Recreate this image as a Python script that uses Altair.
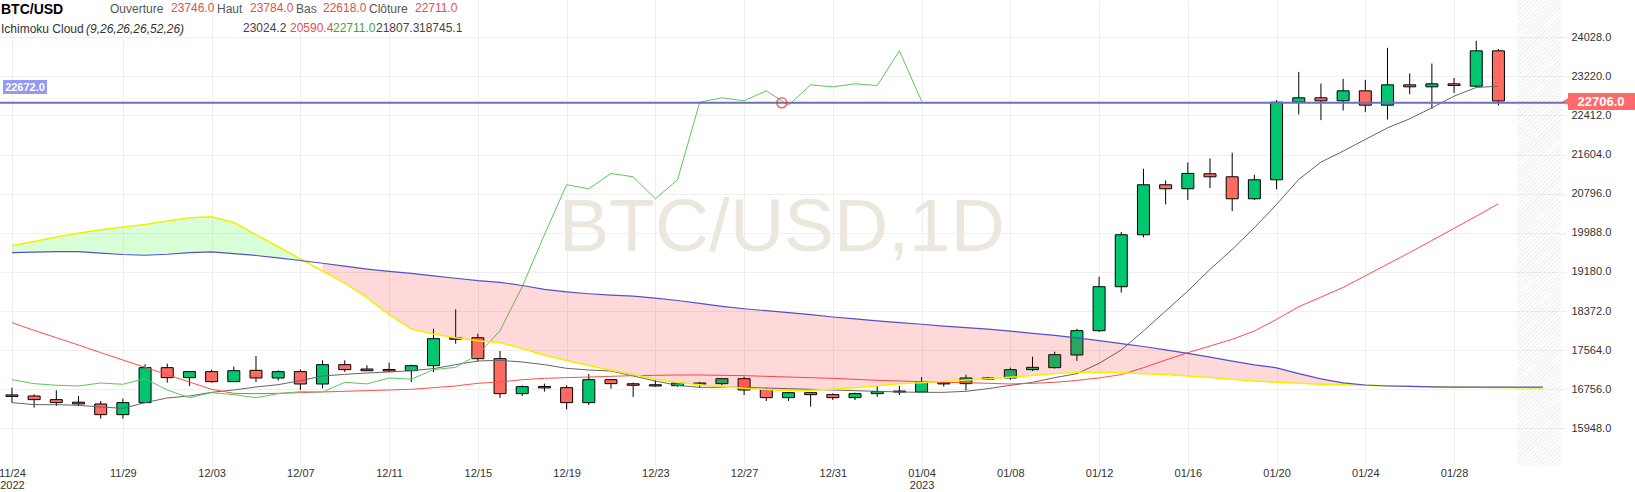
import altair as alt
import pandas as pd

# ---------------- data ----------------
start_date = "2022-11-24"
end_date = "2023-01-30"

open_ = [16640, 16618, 16543, 16490, 16453, 16233, 16481, 17203, 16997, 17121,
         16914, 17148, 16990, 17121, 16866, 17265, 17175, 17165, 17141, 17244,
         17820, 17822, 17389, 16667, 16815, 16790, 16481, 16955, 16870, 16850,
         16831, 16886, 16873, 16976, 16749, 16584, 16687, 16646, 16584, 16667,
         16720, 16701, 16893, 16873, 16990, 16990, 17162, 17203, 17465, 17967,
         18875, 19948, 20980, 20898, 21207, 21145, 20691, 21083, 22686, 22776,
         22714, 22920, 22624, 23044, 23003, 23065, 23016, 23746]
high = [16790, 16652, 16735, 16618, 16515, 16563, 17272, 17286, 17121, 17162,
        17224, 17444, 17148, 17169, 17354, 17354, 17251, 17306, 17265, 18008,
        18407, 17905, 17547, 16838, 16873, 16838, 17072, 16955, 16893, 16942,
        16886, 16907, 16976, 17017, 16790, 16701, 16687, 16673, 16687, 16825,
        16825, 17010, 16893, 17059, 17010, 17203, 17430, 17533, 18008, 19081,
        20003, 21310, 21070, 21441, 21524, 21641, 21186, 22727, 23312, 23071,
        23168, 23147, 23808, 23278, 23484, 23188, 23952, 23784]
low = [16481, 16378, 16412, 16412, 16150, 16150, 16481, 16893, 16825, 16893,
       16914, 16907, 16935, 16742, 16776, 17114, 17134, 17114, 16907, 17114,
       17698, 17334, 16577, 16618, 16708, 16343, 16432, 16770, 16598, 16811,
       16811, 16790, 16838, 16639, 16515, 16515, 16398, 16536, 16536, 16604,
       16639, 16701, 16811, 16735, 16948, 16955, 17134, 17183, 17341, 17940,
       18751, 19893, 20574, 20664, 20911, 20437, 20664, 20884, 22432, 22315,
       22514, 22480, 22328, 22851, 22548, 22879, 22990, 22618]
close = [16610, 16543, 16481, 16455, 16233, 16481, 17203, 16997, 17121, 16914,
         17141, 16990, 17121, 16866, 17265, 17162, 17140, 17135, 17244, 17802,
         17790, 17389, 16667, 16811, 16785, 16481, 16955, 16873, 16840, 16825,
         16886, 16860, 16976, 16742, 16584, 16687, 16646, 16584, 16667, 16708,
         16700, 16900, 16868, 16990, 16965, 17162, 17210, 17471, 17967, 18875,
         19948, 20980, 20898, 21214, 21145, 20691, 21083, 22686, 22776, 22714,
         22920, 22624, 23044, 23003, 23065, 23030, 23746, 22711]

# Ichimoku conversion line (gray) and base line (red)
tenkan = [16481, 16439, 16439, 16426, 16391, 16364, 16481, 16577, 16618, 16694,
          16742, 16804, 16852, 16935, 17031, 17065, 17093, 17114, 17141, 17183,
          17265, 17341, 17354, 17320, 17265, 17189, 17155, 17134, 17031, 16928,
          16838, 16797, 16797, 16797, 16783, 16770, 16756, 16742, 16728, 16715,
          16701, 16694, 16694, 16715, 16770, 16838, 16900, 16997, 17079, 17292,
          17568, 17960, 18373, 18785, 19233, 19645, 20093, 20574, 21090, 21448,
          21675, 21916, 22156, 22342, 22569, 22810, 22989, 23016]
kijun = [18132, 17974, 17822, 17671, 17513, 17361, 17210, 17059, 16907, 16756,
         16673, 16666, 16673, 16687, 16701, 16715, 16728, 16742, 16756, 16790,
         16825, 16880, 16907, 16955, 16983, 16997, 17010, 17024, 17038, 17045,
         17052, 17052, 17045, 17038, 17024, 17010, 16997, 16983, 16962, 16942,
         16928, 16914, 16900, 16893, 16880, 16866, 16880, 16900, 16940, 16990,
         17060, 17203, 17361, 17513, 17650, 17788, 17960, 18201, 18462, 18660,
         18860, 19100, 19340, 19580, 19830, 20080, 20330, 20590]
# lagging span = closes plotted 26 days back (as drawn)
lag_shift = 26
# leading spans A (yellow) and B (blue), days 0..69
span_a = [19720, 19810, 19900, 19980, 20050, 20110, 20160, 20230, 20300, 20320,
          20200, 19950, 19700, 19450, 19200, 18950, 18650, 18300, 18000, 17900,
          17820, 17760, 17720, 17600, 17460, 17350, 17250, 17150, 17060, 16970,
          16895, 16850, 16810, 16780, 16750, 16725, 16735, 16756, 16790, 16830,
          16870, 16893, 16920, 16948, 16975, 17005, 17040, 17080, 17110, 17110,
          17100, 17080, 17060, 17031, 17000, 16962, 16930, 16900, 16880, 16860,
          16850, 16840, 16830, 16820, 16810, 16805, 16800, 16795, 16790, 16785]
span_b = [19580, 19590, 19600, 19600, 19570, 19540, 19525, 19545, 19580, 19594,
          19560, 19520, 19470, 19416, 19360, 19300, 19240, 19190, 19150, 19100,
          19050, 19000, 18966, 18900, 18820, 18770, 18730, 18700, 18680, 18640,
          18590, 18530, 18470, 18420, 18380, 18340, 18300, 18250, 18210, 18170,
          18132, 18100, 18060, 18030, 18000, 17959, 17910, 17870, 17820, 17760,
          17700, 17640, 17570, 17499, 17420, 17340, 17260, 17200, 17080, 16970,
          16890, 16845, 16825, 16815, 16808, 16803, 16800, 16800, 16800, 16800]
green_cloud_days = 14     # cloud green for the first 14 days, red afterwards

price_line = 22672.0
last_badge = 22706.0
cross_day = [34.7]
cross_val = [22672.0]

tick_dates = ["2022-11-24", "2022-11-29", "2022-12-03", "2022-12-07", "2022-12-11",
              "2022-12-15", "2022-12-19", "2022-12-23", "2022-12-27", "2022-12-31",
              "2023-01-04", "2023-01-08", "2023-01-12", "2023-01-16", "2023-01-20",
              "2023-01-24", "2023-01-28"]
y_ticks = [15948, 16756, 17564, 18372, 19180, 19988, 20796, 21604, 22412, 23220, 24028]

title_text = "BTC/USD"
ohlc_labels = ["Ouverture", "Haut", "Bas", "Clôture"]
ohlc_values = ["23746.0", "23784.0", "22618.0", "22711.0"]
ind_name = "Ichimoku Cloud"
ind_params = "(9,26,26,26,52,26)"
ind_values = ["23024.2", "20590.4", "22711.0", "21807.3", "18745.1"]
watermark = "BTC/USD,1D"

# ---------------- frames ----------------
start = pd.Timestamp(start_date)
days = list(range(len(close)))
cdf = pd.DataFrame({"day": days, "open": open_, "high": high, "low": low, "close": close})
cdf["dir"] = ["up" if c >= o else "down" for o, c in zip(open_, close)]

ldf = pd.DataFrame({"day": days, "tenkan": tenkan, "kijun": kijun})
lagdf = pd.DataFrame({"day": list(range(len(close) - lag_shift)), "lag": close[lag_shift:]})
sdf = pd.DataFrame({"day": list(range(len(span_a))), "a": span_a, "b": span_b})
gdf = sdf.iloc[:green_cloud_days]
rdf = sdf.iloc[green_cloud_days:]

tick_days = [(pd.Timestamp(t) - start).days for t in tick_dates]
parts = []
prev_year = None
for t, d in zip(tick_dates, tick_days):
    ts = pd.Timestamp(t)
    lab = ts.strftime("%m/%d")
    if ts.year != prev_year:
        parts.append(f"datum.value == {d} ? ['{lab}', '{ts.year}']")
    else:
        parts.append(f"datum.value == {d} ? '{lab}'")
    prev_year = ts.year
label_expr = " : ".join(parts) + " : ''"

FONT = "Liberation Sans"
last_day = (pd.Timestamp(end_date) - start).days
X_MIN, X_MAX = -0.313, 69.82
Y_MIN, Y_MAX = 15193, 24796
xs = alt.Scale(domain=[X_MIN, X_MAX], nice=False, zero=False)
ys = alt.Scale(domain=[Y_MIN, Y_MAX], nice=False, zero=False)
xaxis = alt.Axis(values=tick_days, labelExpr=label_expr, title=None, grid=True,
                 gridColor="#efefef", ticks=False, domain=False, labelFont=FONT,
                 labelFontSize=11, labelColor="#333333", labelPadding=2,
                 labelFlush=10, labelOverlap=False, labelLineHeight=12)
yaxis = alt.Axis(values=y_ticks, format=".1f", orient="right", title=None, grid=True,
                 gridColor="#efefef", ticks=False, domain=False, labelFont=FONT,
                 labelFontSize=11, labelColor="#333333", labelPadding=5,
                 labelOverlap=False)


def X(f="day"):
    return alt.X(f"{f}:Q", scale=xs, axis=xaxis)


def Y(f):
    return alt.Y(f"{f}:Q", scale=ys, axis=yaxis)


one = pd.DataFrame({"k": [0]})

# diagonal hatch for the "future" zone (stripes built as a repeating gradient)
hatch_w, hatch_h = 44.0, 465.0
a_, b_ = hatch_w / hatch_h, 1.0
s_ = 1.1
n_stripes = 120
stops = []
for i in range(n_stripes):
    o0 = i / n_stripes
    o1 = (i + 0.55) / n_stripes
    o2 = (i + 1) / n_stripes
    stops += [alt.GradientStop(color="rgba(0,0,0,0)", offset=o0),
              alt.GradientStop(color="rgba(0,0,0,0)", offset=o1),
              alt.GradientStop(color="rgba(0,0,0,0.055)", offset=o1),
              alt.GradientStop(color="rgba(0,0,0,0.055)", offset=o2)]
hatch_fill = alt.LinearGradient(gradient="linear", stops=stops,
                                x1=0, y1=0, x2=a_ * s_, y2=b_ * s_)

hatch = alt.Chart(one).mark_rect(fill=hatch_fill).encode(
    x=alt.X("hx:Q", scale=xs, axis=xaxis), x2=alt.datum(X_MAX),
    y=alt.Y("hy:Q", scale=ys, axis=yaxis), y2=alt.datum(Y_MAX)
).transform_calculate(hx=f"{last_day + 0.85}", hy=f"{Y_MIN}")

wm = alt.Chart(one).mark_text(text=watermark, font=FONT, fontSize=75, color="#ebe7dc",
                              align="center", baseline="alphabetic").encode(
    x=alt.value(782), y=alt.value(251))

wicks = alt.Chart(cdf).mark_rule(color="#000000", strokeWidth=1).encode(
    x=X(), y=Y("low"), y2="high:Q")
bodies = alt.Chart(cdf).mark_bar(size=12, stroke="#000000", strokeWidth=1).encode(
    x=X(), y=Y("open"), y2="close:Q",
    color=alt.Color("dir:N", scale=alt.Scale(domain=["up", "down"],
                                              range=["#00c66f", "#ff6b60"]), legend=None))

tk = alt.Chart(ldf).mark_line(color="#666666", strokeWidth=1).encode(x=X(), y=Y("tenkan"))
kj = alt.Chart(ldf).mark_line(color="#ff4d4d", strokeWidth=1).encode(x=X(), y=Y("kijun"))
lg = alt.Chart(lagdf).mark_line(color="#5ac85a", strokeWidth=1).encode(x=X(), y=Y("lag"))

g_area = alt.Chart(gdf).mark_area(color="#00ff00", opacity=0.15).encode(
    x=X(), y=Y("a"), y2="b:Q")
r_area = alt.Chart(rdf).mark_area(color="#ff0000", opacity=0.15).encode(
    x=X(), y=Y("a"), y2="b:Q")
la = alt.Chart(sdf).mark_line(color="#f2ef00", strokeWidth=1.5).encode(x=X(), y=Y("a"))
lb = alt.Chart(sdf).mark_line(color="#5252c8", strokeWidth=1.2).encode(x=X(), y=Y("b"))

hline = alt.Chart(one).mark_rule(color="#6d70b8", strokeWidth=2).encode(
    y=alt.Y("pv:Q", scale=ys, axis=yaxis)).transform_calculate(pv=f"{price_line}")

cross = alt.Chart(pd.DataFrame({"day": cross_day, "v": cross_val})).mark_point(
    shape="circle", size=100, filled=False, color="#e8302f", strokeWidth=1.5).encode(
    x=X(), y=Y("v"))

lb_rect = alt.Chart(one).mark_rect(color="#9499f2").encode(
    x=alt.value(3), x2=alt.value(47), y=alt.value(80), y2=alt.value(94))
lb_text = alt.Chart(one).mark_text(text=f"{price_line:.1f}", font=FONT, fontSize=11,
                                   fontWeight="bold", color="white", align="center",
                                   baseline="middle").encode(x=alt.value(25), y=alt.value(87.5))

rb_rect = alt.Chart(one).mark_rect(color="#ff6a6a").encode(
    x=alt.value(1568), x2=alt.value(1635), y=alt.value(93), y2=alt.value(110))
rb_arrow = alt.Chart(one).mark_point(shape="triangle-left", filled=True, size=70,
                                     color="#ff6a6a", opacity=1).encode(
    x=alt.value(1566), y=alt.value(101.5))
rb_text = alt.Chart(one).mark_text(text=f"{last_badge:.1f}", font=FONT, fontSize=13,
                                   fontWeight="bold", color="white", align="center",
                                   baseline="middle").encode(x=alt.value(1601), y=alt.value(102))


def txt(s, x, y, size=12, color="#333333", weight="normal", style="normal"):
    return alt.Chart(one).mark_text(text=s, font=FONT, fontSize=size, color=color,
                                    fontWeight=weight, fontStyle=style, align="left",
                                    baseline="alphabetic").encode(x=alt.value(x), y=alt.value(y))


header = [txt(title_text, 1, 14, size=14, color="#000000", weight="bold")]
label_x = [110, 217, 296, 369]
value_x = [171, 250, 323, 415]
for lab, lx, val, vx in zip(ohlc_labels, label_x, ohlc_values, value_x):
    header.append(txt(lab, lx, 13, size=12, color="#555555"))
    header.append(txt(val, vx, 12, size=12, color="#e0504f"))
header.append(txt(ind_name, 1, 33, size=12, color="#333333"))
header.append(txt(ind_params, 86, 33, size=12, color="#333333", style="italic"))
ind_x = [243, 290, 333, 376, 419]
ind_col = ["#444444", "#e0504f", "#3aa53a", "#444444", "#444444"]
for v, x, c in zip(ind_values, ind_x, ind_col):
    header.append(txt(v, x, 32, size=12, color=c))

chart = alt.layer(
    hatch, wm, wicks, bodies, tk, kj, lg, g_area, r_area, la, lb, hline, cross,
    lb_rect, lb_text, rb_rect, rb_arrow, rb_text, *header
).properties(
    width=1566, height=465,
    autosize=alt.AutoSizeParams(type="none"),
    padding={"left": 0, "top": 0, "right": 69, "bottom": 27},
    background="white"
).configure_view(stroke=None)

chart.save("out.html", embed_options={"renderer": "svg", "actions": False})
